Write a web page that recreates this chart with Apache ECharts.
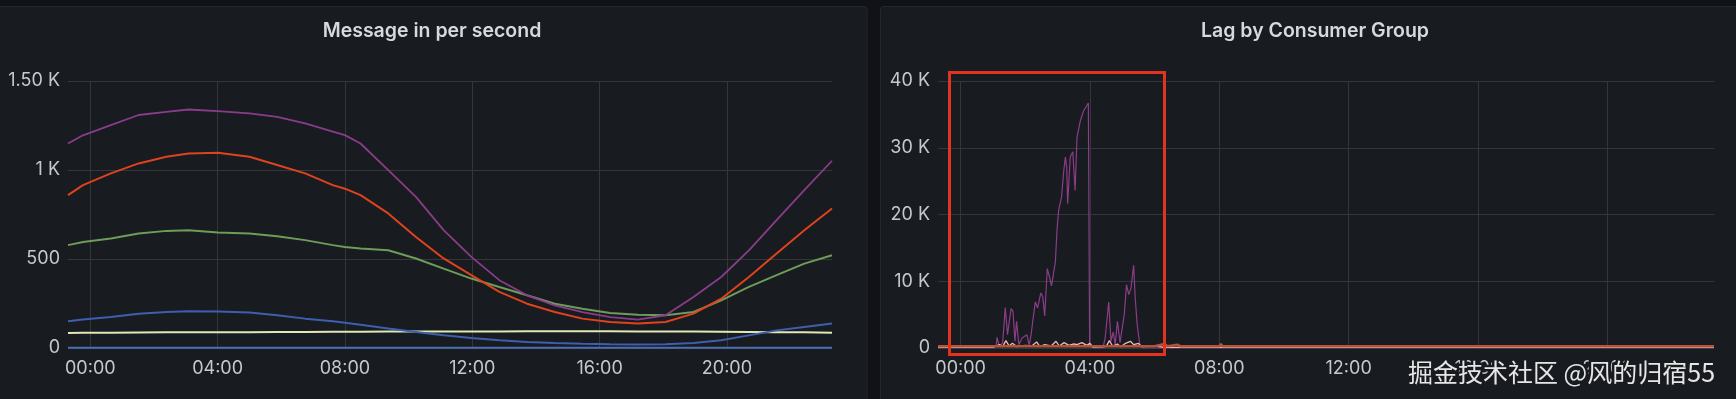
<!DOCTYPE html>
<html>
<head>
<meta charset="utf-8">
<script src="https://cdn.jsdelivr.net/npm/echarts@6.0.0/dist/echarts.min.js"></script>
<style>
html,body{margin:0;padding:0;background:#111217;}
#c{width:1736px;height:399px;}
</style>
</head>
<body>
<div id="c"></div>
<script>
// ---------- Data: "Message in per second" (x in hours from 00:00) ----------
const msgHours = [-0.70,-0.23,0.645,1.52,2.39,3.085,4.01,5.0,5.87,6.75,7.62,8.0,8.49,9.36,10.23,11.1,11.97,12.85,13.72,14.59,15.46,16.33,17.2,18.07,18.95,19.82,20.69,21.56,22.43,23.3];
const msgPurple = [1149,1195,1252,1309,1327,1340,1331,1318,1299,1262,1215,1196,1149,999,849,662,512,381,296,240,202,174,159,184,287,399,549,718,887,1052];
const msgRed    = [859,915,981,1037,1074,1093,1097,1074,1028,981,915,895,859,756,624,503,409,315,249,202,165,146,137,146,193,277,399,531,662,784];
const msgGreen  = [578,595,615,643,658,662,649,643,628,606,578,568,559,549,503,446,390,343,296,249,221,197,187,184,202,268,343,409,474,521];
const msgBlue   = [150,160,174,193,202,207,205,199,184,165,150,142,131,109,90,71,56,43,34,28,24,21,19,21,28,43,71,99,118,137];
const msgYellow = [84,85,86,87,88,88,89,89,90,90,91,91,91,92,92,92,93,93,94,94,94,94,93,93,92,91,90,89,88,86];
const msgZero   = [2,2,2,2,2,2,2,2,2,2,2,2,2,2,2,2,2,2,2,2,2,2,2,2,2,2,2,2,2,2];

// ---------- Data: "Lag by Consumer Group" ----------
const lagPurpleHours = [-0.7,1.0,1.1,1.125,1.2,1.3,1.38,1.45,1.56,1.62,1.68,1.73,1.8,1.9,2.05,2.12,2.18,2.23,2.31,2.38,2.48,2.54,2.6,2.68,2.75,2.81,2.93,2.98,3.03,3.12,3.19,3.24,3.28,3.31,3.39,3.47,3.54,3.6,3.7,3.8,3.95,3.99,4.1,4.4,4.47,4.58,4.65,4.72,4.78,4.85,4.93,5.06,5.13,5.2,5.27,5.35,5.4,5.46,5.54,5.65,23.3];
const lagPurple = [0,0,300,1600,200,800,6050,2000,5900,5500,1000,4000,500,1500,2000,400,2000,4000,6900,6000,8250,7700,4800,11900,10600,9300,12900,17600,20600,22600,26600,28600,27100,21600,28600,29400,23600,31600,34000,35500,36700,500,0,0,1500,6900,1000,2400,500,4000,800,5000,9500,8000,9000,12400,7500,3500,500,0,0];
const lagPinkHours = [-0.7,1.0,1.2,1.3,1.4,1.5,1.6,1.75,2.0,2.2,2.35,2.45,2.6,2.8,2.95,3.05,3.2,3.35,3.5,3.6,3.75,3.9,4.0,4.1,4.5,4.6,4.7,4.85,4.95,5.1,5.25,5.35,5.5,5.6,6.0,6.3,23.3];
const lagPink = [100,100,500,200,1100,300,700,200,400,300,900,200,500,300,1000,300,800,400,600,500,800,400,700,100,200,1100,300,600,200,700,1000,500,700,200,300,100,100];
const lagOrangeHours = [-0.7,6.0,6.3,6.4,6.7,6.8,8.0,8.05,8.1,23.3];
const lagOrange = [250,250,600,250,500,250,250,600,250,250];

// ---------- Axis ticks ----------
const xTickValues = [0,4,8,12,16,20];
const xTickLabels = ['00:00','04:00','08:00','12:00','16:00','20:00'];
const msgYTicks = [0,500,1000,1500];
const msgYLabels = ['0','500','1 K','1.50 K'];
const lagYTicks = [0,10000,20000,30000,40000];
const lagYLabels = ['0','10 K','20 K','30 K','40 K'];

const zip = (xs, ys) => xs.map((x, i) => [x, ys[i]]);

const FONT = 'Inter, "Noto Sans", sans-serif';
const TXT = '#c7c8cd';
const GRIDC = '#34363c';

function xAxis(gi) {
  return {
    type: 'value', gridIndex: gi, min: -0.7, max: 23.3,
    axisLine: {show: false},
    axisTick: {show: false, customValues: xTickValues},
    axisLabel: {
      customValues: xTickValues, color: TXT, fontSize: 18, fontFamily: FONT, margin: 12,
      formatter: v => xTickLabels[xTickValues.indexOf(v)] || ''
    },
    splitLine: {show: true, lineStyle: {color: GRIDC, width: 1}}
  };
}
function yAxis(gi, max, interval, ticks, labels) {
  return {
    type: 'value', gridIndex: gi, min: 0, max: max, interval: interval,
    axisLine: {show: false}, axisTick: {show: false},
    axisLabel: {
      color: TXT, fontSize: 18, fontFamily: FONT, margin: 8,
      formatter: v => labels[ticks.indexOf(v)]
    },
    splitLine: {show: true, lineStyle: {color: GRIDC, width: 1}}
  };
}
function line(name, gi, data, color, width, z) {
  return {
    name, type: 'line', xAxisIndex: gi, yAxisIndex: gi, data,
    showSymbol: false, symbol: 'none', smooth: false, z: z || 2,
    lineStyle: {color, width}, itemStyle: {color}
  };
}

const chart = echarts.init(document.getElementById('c'), null, {renderer: 'canvas'});
chart.setOption({
  backgroundColor: '#111217',
  animation: false,
  grid: [
    {left: 68, right: 904, top: 81, bottom: 51},
    {left: 938, right: 22, top: 81, bottom: 51}
  ],
  xAxis: [xAxis(0), xAxis(1)],
  yAxis: [
    yAxis(0, 1500, 500, msgYTicks, msgYLabels),
    yAxis(1, 40000, 10000, lagYTicks, lagYLabels)
  ],
  series: [
    line('zero', 0, zip(msgHours, msgZero), '#4a6db0', 2),
    line('yellow', 0, zip(msgHours, msgYellow), '#dfe9b6', 2),
    line('blue', 0, zip(msgHours, msgBlue), '#3d5fae', 2),
    line('green', 0, zip(msgHours, msgGreen), '#6e9c59', 2),
    line('red', 0, zip(msgHours, msgRed), '#de431d', 2),
    line('purple', 0, zip(msgHours, msgPurple), '#8a3c8c', 1.8),
    line('lagPurple', 1, zip(lagPurpleHours, lagPurple), '#8c3c89', 1.2),
    line('lagPink', 1, zip(lagPinkHours, lagPink), '#f2b6b5', 1.3, 3),
    line('lagOrange', 1, zip(lagOrangeHours, lagOrange), '#b0553a', 2.5, 4)
  ],
  graphic: [
    {type: 'rect', z: -100, shape: {x: -4, y: 6.5, width: 871, height: 420, r: 3},
     style: {fill: '#181b1f', stroke: '#25272c', lineWidth: 1}},
    {type: 'rect', z: -100, shape: {x: 880.5, y: 6.5, width: 880, height: 420, r: 3},
     style: {fill: '#181b1f', stroke: '#25272c', lineWidth: 1}},
    {type: 'text', z: 10, x: 432, y: 31, style: {text: 'Message in per second', fill: '#d8d9dc',
      font: '600 19.5px ' + FONT, align: 'center', verticalAlign: 'middle'}},
    {type: 'text', z: 10, x: 1315, y: 31, style: {text: 'Lag by Consumer Group', fill: '#d8d9dc',
      font: '600 19.5px ' + FONT, align: 'center', verticalAlign: 'middle'}},
    {type: 'rect', z: 100, shape: {x: 949.5, y: 72.5, width: 215, height: 282},
     style: {fill: 'none', stroke: '#e3331f', lineWidth: 3}},
    {type: 'text', z: 100, x: 1408, y: 372, style: {text: '掘金技术社区 @风的归宿55', fill: '#e6e6e6',
      font: '25px "Noto Sans CJK SC", sans-serif', align: 'left', verticalAlign: 'middle',
      stroke: '#181b1f', lineWidth: 5, shadowColor: 'rgba(0,0,0,0.6)', shadowBlur: 3}}
  ]
});
</script>
</body>
</html>
